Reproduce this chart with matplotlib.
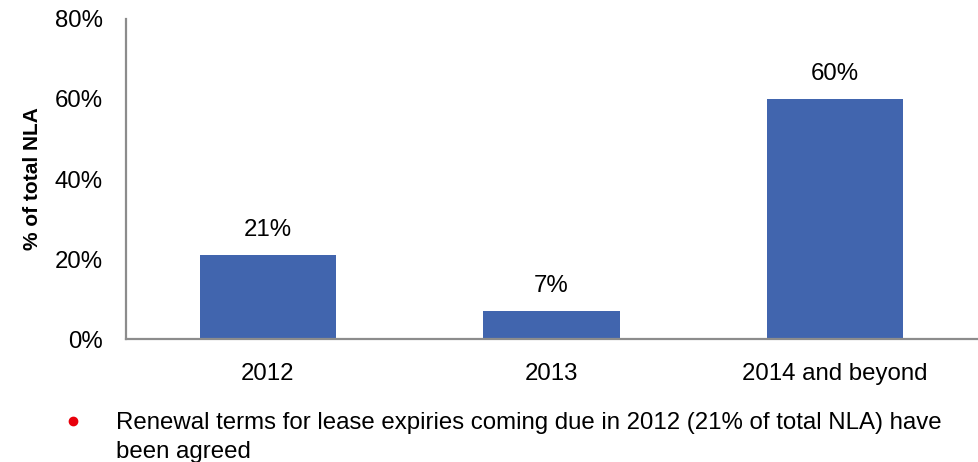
import matplotlib.pyplot as plt
from matplotlib.lines import Line2D
from matplotlib.ticker import FuncFormatter

plt.rcParams['font.family'] = ['Liberation Sans', 'DejaVu Sans']

categories = ["2012", "2013", "2014 and beyond"]
share_pct = [21, 7, 60]
y_ticks = [0, 20, 40, 60, 80]
note = ("Renewal terms for lease expiries coming due in 2012 (21% of total NLA) have\n"
        "been agreed")

fig = plt.figure(figsize=(9.79, 4.62), dpi=100)
ax = fig.add_axes([0.1287, 0.2662, 0.8693, 0.6927])

x = range(len(categories))
bars = ax.bar(x, share_pct, width=0.48, color="#4165AE", zorder=2)
for rect, v in zip(bars, share_pct):
    ax.annotate(f"{v}%", (rect.get_x() + rect.get_width() / 2, v),
                xytext=(0, 10), textcoords="offset points",
                ha="center", va="bottom", fontsize=17.3)

ax.set_xlim(-0.5, 2.5)
ax.set_ylim(0, 80)
ax.set_yticks(y_ticks)
ax.yaxis.set_major_formatter(FuncFormatter(lambda v, _: f"{v:.0f}%"))
ax.set_xticks(list(x))
ax.set_xticklabels(categories)
ax.tick_params(axis="both", length=0, labelsize=17.3)
ax.tick_params(axis="y", pad=16.5)
ax.tick_params(axis="x", pad=17)

for side in ("top", "right"):
    ax.spines[side].set_visible(False)
for side in ("left", "bottom"):
    ax.spines[side].set_color("#8c8c8c")
    ax.spines[side].set_linewidth(1.6)

ax.set_ylabel("% of total NLA", fontsize=15, fontweight="bold")
ax.yaxis.set_label_coords(-0.099, 0.5)

# bullet note under the chart
fig.add_artist(Line2D([73 / 979], [1 - 421 / 462], marker="o", markersize=6,
                      color="#e8000b", transform=fig.transFigure))
fig.text(116 / 979, 1 - 412 / 462, note, fontsize=17.3, ha="left", va="top",
         linespacing=1.42)

fig.savefig("out.png", dpi=100)
